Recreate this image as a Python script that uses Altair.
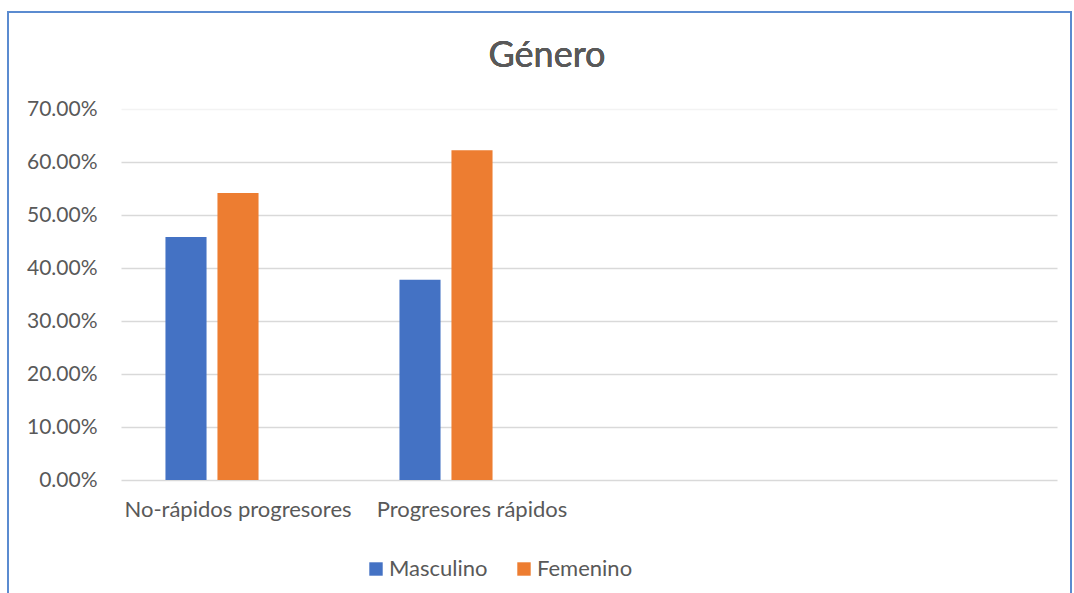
import altair as alt
import pandas as pd

# Categories on the x axis; the last two slots are left empty
categories = ["No-rápidos progresores", "Progresores rápidos", " ", "  "]
series = ["Masculino", "Femenino"]
masculino = [0.4583, 0.378]
femenino = [0.5417, 0.622]
title_text = "Género"

rows = []
for cat, m, f in zip(categories[:2], masculino, femenino):
    rows.append({"categoria": cat, "genero": "Masculino", "valor": m})
    rows.append({"categoria": cat, "genero": "Femenino", "valor": f})
df = pd.DataFrame(rows)

FONT = "Lato"
TEXT = "#595959"
GRID = "#d9d9d9"

bars = alt.Chart(df).mark_bar().encode(
    x=alt.X(
        "categoria:N",
        scale=alt.Scale(domain=categories, paddingInner=0.38, paddingOuter=0.19),
        sort=categories,
        axis=alt.Axis(
            title=None, labelAngle=0, ticks=False, domain=False,
            labelFont=FONT, labelFontSize=22, labelColor=TEXT,
            labelPadding=19, labelLimit=300,
        ),
    ),
    xOffset=alt.XOffset(
        "genero:N",
        scale=alt.Scale(domain=series + ["(vacío)"], paddingInner=0.21, paddingOuter=0),
    ),
    y=alt.Y(
        "valor:Q",
        scale=alt.Scale(domain=[0, 0.7], nice=False),
        axis=alt.Axis(
            title=None, format=".2%", values=[0, 0.1, 0.2, 0.3, 0.4, 0.5, 0.6, 0.7],
            ticks=False, domain=False, labelFont=FONT, labelFontSize=21,
            labelColor=TEXT, labelPadding=24, gridWidth=1.3,
            gridColor=alt.condition("datum.value >= 0.7", alt.value("#f3f3f3"), alt.value(GRID)),
        ),
    ),
    color=alt.Color(
        "genero:N",
        scale=alt.Scale(domain=series, range=["#4472C4", "#ED7D31"]),
        legend=alt.Legend(
            title=None, orient="none", direction="horizontal",
            legendX=244, legendY=449, symbolType="square", symbolSize=180,
            symbolStrokeWidth=0, labelFont=FONT, labelFontSize=22,
            labelColor=TEXT, columnPadding=25, labelOffset=2,
        ),
    ),
)

# Chart title, centred over the bars area
title = alt.Chart(df).mark_text(
    font=FONT, fontSize=36, color=TEXT, align="center", baseline="alphabetic"
).encode(x=alt.value(426), y=alt.value(-42), text=alt.value(title_text))

# Outer frame of the chart
frame = alt.Chart(df).mark_rect(
    fill=None, stroke="#5B8BD0", strokeWidth=2
).encode(
    x=alt.value(-113), x2=alt.value(950), y=alt.value(-97), y2=alt.value(520)
)

chart = alt.layer(frame, title, bars).properties(
    width=936,
    height=371,
    autosize=alt.AutoSizeParams(type="none"),
    padding={"left": 121, "top": 109, "right": 17, "bottom": 113},
).configure(background="white").configure_view(stroke=None)

chart.save("out.html", embed_options={"renderer": "svg", "actions": False})
